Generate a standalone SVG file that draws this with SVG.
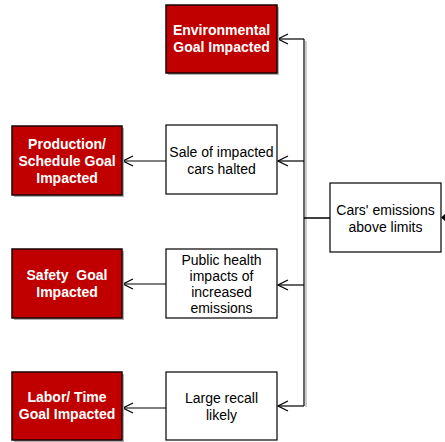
<svg xmlns="http://www.w3.org/2000/svg" width="445" height="442" viewBox="0 0 445 442">
<style>
.red{fill:#C00000;stroke:#1a0000;stroke-width:1.5}
.wht{fill:#fff;stroke:#000;stroke-width:1.2}
.sh{fill:#b0b0b0}
.rt{font-family:"Liberation Sans",Arial,sans-serif;font-size:14px;font-weight:bold;fill:#fff;text-anchor:middle}
.wt{font-family:"Liberation Sans",Arial,sans-serif;font-size:14px;fill:#000;text-anchor:middle}
.ln{fill:none;stroke:#000;stroke-width:1.2}
.lsh{fill:none;stroke:#aaa;stroke-width:1.2}
</style>
<defs>
<marker id="open" viewBox="0 0 12 12" refX="11" refY="6" markerWidth="12" markerHeight="12" markerUnits="userSpaceOnUse" orient="auto">
<path d="M1,1 L11,6 L1,11" fill="none" stroke="#000" stroke-width="1.2"/>
</marker>
</defs>
<g id="connectors">
<path class="lsh" d="M306,41 V407"/>
<path class="ln" d="M304,39 H278" marker-end="url(#open)"/>
<path class="ln" d="M304,39 V406"/>
<path class="ln" d="M304,161 H278" marker-end="url(#open)"/>
<path class="ln" d="M304,285 H278" marker-end="url(#open)"/>
<path class="ln" d="M304,406 H278" marker-end="url(#open)"/>
<path class="ln" d="M304,218 H330" style="stroke-width:1.5"/>
<path class="ln" d="M166,161 H123" marker-end="url(#open)"/>
<path class="ln" d="M166,284 H123" marker-end="url(#open)"/>
<path class="ln" d="M166,408 H123" marker-end="url(#open)"/>
<path d="M445,214 L441,217.5 L445,221 Z" fill="#000"/>
</g>
<g id="env">
<rect class="sh" x="168" y="7" width="111" height="68"/>
<rect class="red" x="166" y="5" width="111" height="68"/>
<text class="rt" x="221.5" y="35">Environmental</text>
<text class="rt" x="221.5" y="52">Goal Impacted</text>
</g>
<g id="prod">
<rect class="sh" x="14" y="128" width="110" height="69"/>
<rect class="red" x="12" y="126" width="110" height="69"/>
<text class="rt" x="67" y="149">Production/</text>
<text class="rt" x="67" y="166">Schedule Goal</text>
<text class="rt" x="67" y="183">Impacted</text>
</g>
<g id="sale">
<rect class="wht" x="166" y="125" width="111" height="69"/>
<text class="wt" x="221.5" y="157">Sale of impacted</text>
<text class="wt" x="221.5" y="174">cars halted</text>
</g>
<g id="cars">
<rect class="wht" x="330" y="183" width="111" height="69"/>
<text class="wt" x="385.5" y="215">Cars' emissions</text>
<text class="wt" x="385.5" y="232">above limits</text>
</g>
<g id="safety">
<rect class="sh" x="14" y="251" width="110" height="69"/>
<rect class="red" x="12" y="249" width="110" height="69"/>
<text class="rt" x="67" y="280" xml:space="preserve">Safety  Goal</text>
<text class="rt" x="67" y="297">Impacted</text>
</g>
<g id="health">
<rect class="wht" x="166" y="249" width="111" height="69"/>
<text class="wt" x="221.5" y="265">Public health</text>
<text class="wt" x="221.5" y="281">impacts of</text>
<text class="wt" x="221.5" y="297">increased</text>
<text class="wt" x="221.5" y="313">emissions</text>
</g>
<g id="labor">
<rect class="sh" x="14" y="374" width="110" height="68"/>
<rect class="red" x="12" y="372" width="110" height="68"/>
<text class="rt" x="67" y="402">Labor/ Time</text>
<text class="rt" x="67" y="419">Goal Impacted</text>
</g>
<g id="recall">
<rect class="wht" x="166" y="372" width="111" height="68"/>
<text class="wt" x="221.5" y="403">Large recall</text>
<text class="wt" x="221.5" y="420">likely</text>
</g>
</svg>
